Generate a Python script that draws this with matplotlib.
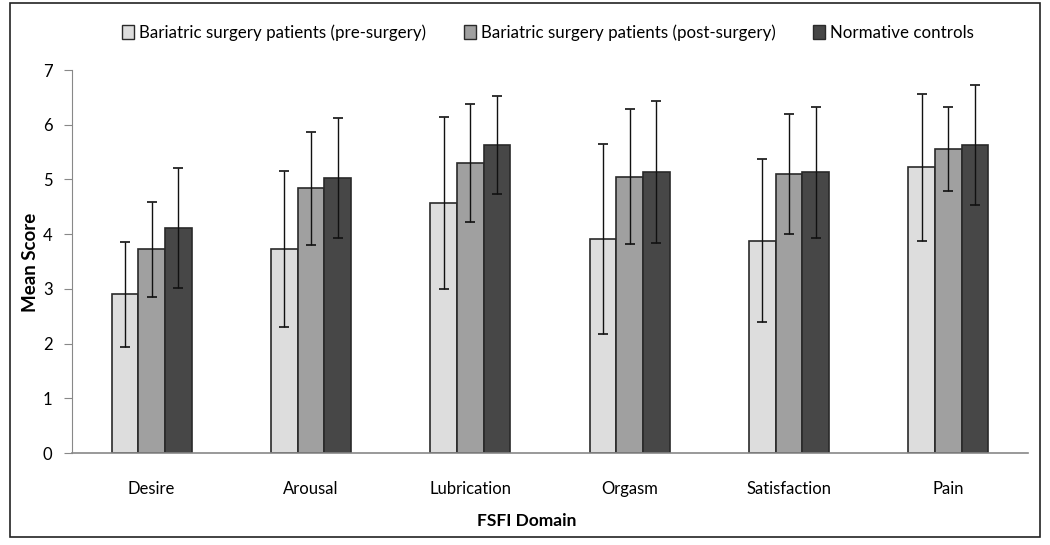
import matplotlib
matplotlib.use("Agg")
import matplotlib.pyplot as plt
import numpy as np
from matplotlib.patches import Rectangle, Patch

categories = ["Desire", "Arousal", "Lubrication", "Orgasm", "Satisfaction", "Pain"]
series_names = ["Bariatric surgery patients (pre-surgery)",
                "Bariatric surgery patients (post-surgery)",
                "Normative controls"]
pre_mean = [2.90, 3.73, 4.57, 3.91, 3.88, 5.22]
pre_sd = [0.96, 1.42, 1.58, 1.73, 1.49, 1.34]
post_mean = [3.72, 4.84, 5.30, 5.05, 5.10, 5.55]
post_sd = [0.87, 1.03, 1.08, 1.23, 1.10, 0.77]
norm_mean = [4.11, 5.03, 5.63, 5.13, 5.13, 5.63]
norm_sd = [1.10, 1.10, 0.90, 1.30, 1.20, 1.10]
yticks = [0, 1, 2, 3, 4, 5, 6, 7]

plt.rcParams['font.family'] = ['Lato', 'DejaVu Sans']

W, H = 1050, 545
fig = plt.figure(figsize=(W / 100, H / 100), dpi=100)
ax = fig.add_axes([72 / W, 1 - 453 / H, (1028 - 72) / W, (453 - 70) / H])

colors = ["#DDDDDD", "#A0A0A0", "#474747"]
means = [pre_mean, post_mean, norm_mean]
sds = [pre_sd, post_sd, norm_sd]
x = np.arange(len(categories))
bw = 0.167
for i in range(3):
    xs = x + (i - 1) * bw
    ax.bar(xs, means[i], width=bw, color=colors[i], edgecolor="#2a2a2a",
           linewidth=1.2, zorder=2, label=series_names[i])
    ax.errorbar(xs, means[i], yerr=sds[i], fmt="none", ecolor="#111111",
                elinewidth=1.0, capsize=3.5, capthick=1.2, zorder=3)

ax.set_xlim(-0.5, len(categories) - 0.5)
ax.set_ylim(0, 7)
ax.set_yticks(yticks)
ax.set_xticks(x)
ax.set_xticklabels(categories, fontsize=12)
ax.tick_params(axis="x", length=0, pad=20)
ax.tick_params(axis="y", length=6, direction="out", color="#888888", labelsize=12, pad=8)
for s in ["top", "right"]:
    ax.spines[s].set_visible(False)
ax.spines["left"].set_color("#888888")
ax.spines["bottom"].set_color("#888888")
ax.spines["bottom"].set_linewidth(1.2)

fig.text(30 / W, 1 - 262 / H, "Mean Score", rotation=90, fontsize=13.5,
         fontweight="bold", ha="center", va="center")
fig.text(527 / W, 1 - 521 / H, "FSFI Domain", fontsize=12.5,
         fontweight="bold", ha="center", va="center")

handles = [Patch(facecolor=colors[i], edgecolor="#2a2a2a", linewidth=1.0) for i in range(3)]
fig.legend(handles, series_names, loc="center", bbox_to_anchor=(548 / W, 1 - 33 / H),
           ncol=3, frameon=False, fontsize=12.2, handlelength=0.7, handleheight=0.9,
           handletextpad=0.3, columnspacing=2.2)

fig.patches.append(Rectangle((10 / W, 1 - 537 / H), (1040 - 10) / W, (537 - 3) / H,
                             transform=fig.transFigure, fill=False,
                             edgecolor="#222222", linewidth=1.2))

fig.savefig("out.png", dpi=100)
